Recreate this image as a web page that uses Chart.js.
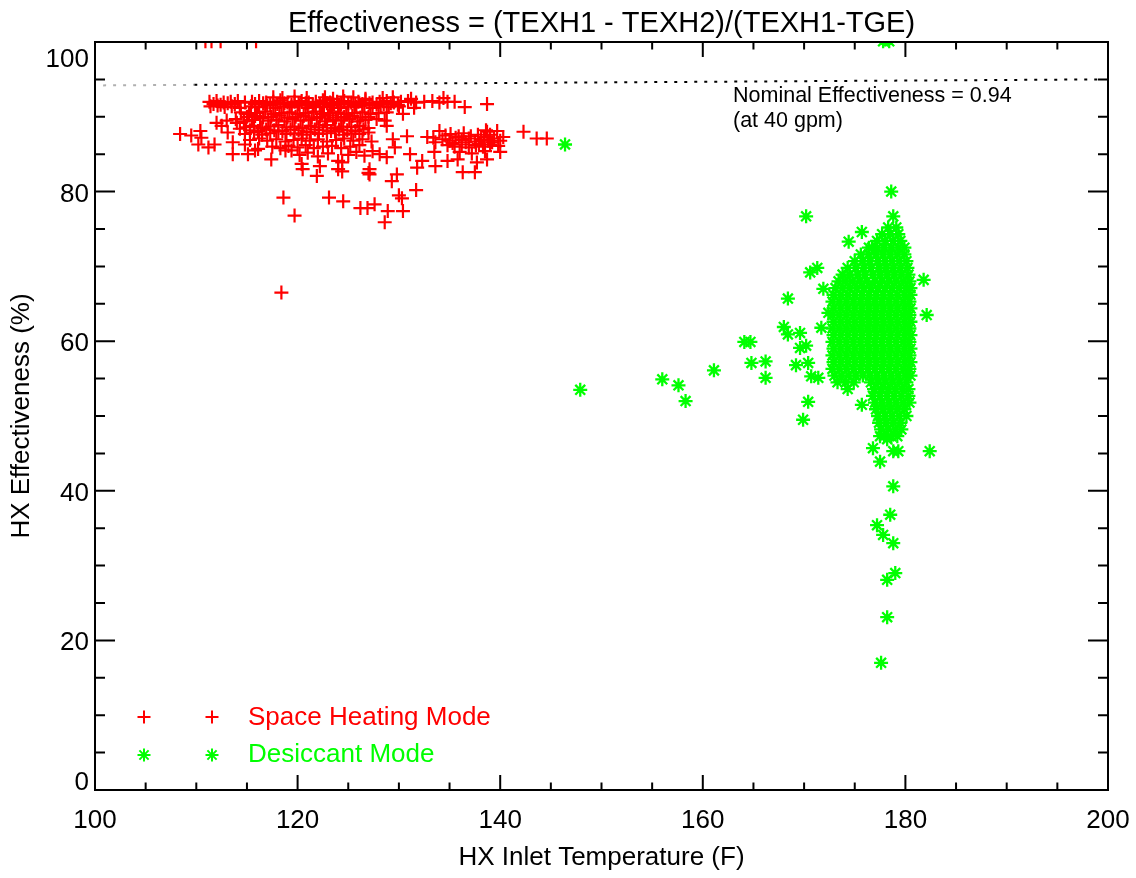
<!DOCTYPE html>
<html>
<head>
<meta charset="utf-8">
<title>HX Effectiveness</title>
<script src="https://cdn.jsdelivr.net/npm/chart.js@4.4.1/dist/chart.umd.min.js"></script>
<style>
  html, body { margin: 0; padding: 0; background: #fff; }
  canvas { display: block; }
</style>
</head>
<body>
<canvas id="hx-chart" width="1136" height="878"></canvas>
<script>
const titleText = 'Effectiveness = (TEXH1 - TEXH2)/(TEXH1-TGE)';
const xTitle = 'HX Inlet Temperature (F)';
const yTitle = 'HX Effectiveness (%)';
const xTickValues = [100, 120, 140, 160, 180, 200];
const xTickLabels = ['100', '120', '140', '160', '180', '200'];
const yTickValues = [0, 20, 40, 60, 80, 100];
const yTickLabels = ['0', '20', '40', '60', '80', '100'];
const minorStep = 5;
const seriesNames = ['Space Heating Mode', 'Desiccant Mode'];
const noteLines = ['Nominal Effectiveness = 0.94', '(at 40 gpm)'];

// nominal effectiveness reference (dotted)
const nominalGrey = [[100.8, 94.2], [109.8, 94.27]];
const nominalBlack = [[109.8, 94.27], [199.0, 95.0]];

// space heating mode (temp F, effectiveness %)
const heatingClipped = [[110.9, 100.1], [111.5, 100.1], [112.4, 100.1], [115.9, 100.1]];
const heatingTop = [
  [111.3, 92.0], [112.0, 92.1], [112.7, 91.9], [113.4, 92.0], [114.1, 92.1], [114.8, 91.9],
  [115.5, 92.0], [116.2, 92.1], [116.9, 91.9], [117.6, 92.0], [118.3, 92.2], [119.0, 91.9],
  [119.7, 92.0], [120.4, 92.1], [121.1, 91.9], [121.8, 92.0], [122.5, 92.2], [123.2, 91.9],
  [123.9, 92.0], [124.6, 92.1], [125.3, 91.9], [126.0, 92.0], [126.7, 92.2], [127.4, 91.9],
  [128.1, 92.0], [128.8, 92.1], [129.5, 91.9], [130.2, 92.0], [130.9, 92.1], [131.7, 91.9],
  [132.5, 92.0], [133.3, 92.1], [134.0, 91.9], [134.8, 92.0], [135.5, 92.0], [138.7, 91.7],
  [117.6, 92.6], [118.5, 92.5], [119.7, 92.7], [120.9, 92.5], [122.7, 92.6], [123.5, 92.4],
  [124.5, 92.7], [125.5, 92.6], [126.7, 92.4], [128.4, 92.5], [129.4, 92.6], [131.2, 92.4],
  [134.4, 92.5],
  [111.7, 91.7], [112.4, 91.6], [113.1, 91.8], [113.8, 91.7], [115.8, 91.7], [116.6, 91.8],
  [117.3, 91.6], [118.0, 91.7], [118.7, 91.8], [119.4, 91.6], [120.1, 91.7], [120.8, 91.8],
  [121.5, 91.6], [122.2, 91.7], [122.9, 91.8], [123.6, 91.6], [124.3, 91.7], [125.0, 91.8],
  [125.7, 91.6], [126.4, 91.7], [127.1, 91.8], [127.8, 91.6], [128.5, 91.7], [129.2, 91.8],
  [129.9, 91.6]
];
const heatingCore = [
  [111.4, 91.4], [112.1, 91.5], [112.8, 91.3], [113.5, 91.4], [114.3, 91.2], [115.4, 91.4],
  [116.2, 91.3], [117.0, 91.5], [117.8, 91.2], [118.6, 91.4], [119.4, 91.3], [120.2, 91.5],
  [121.0, 91.2], [121.8, 91.4], [122.6, 91.3], [123.4, 91.5], [124.2, 91.2], [125.0, 91.4],
  [125.8, 91.3], [126.6, 91.5], [127.4, 91.2], [128.2, 91.4], [129.0, 91.3], [130.0, 91.4],
  [131.5, 91.2], [136.5, 91.3],
  [114.4, 90.6], [115.2, 90.4], [116.0, 90.5], [116.8, 90.7], [117.6, 90.4], [118.4, 90.5],
  [119.2, 90.6], [120.0, 90.4], [120.8, 90.5], [121.6, 90.7], [122.4, 90.4], [123.2, 90.5],
  [124.0, 90.6], [124.8, 90.4], [125.6, 90.5], [126.4, 90.6], [127.2, 90.4], [128.0, 90.5],
  [128.8, 90.6], [130.4, 90.4],
  [115.0, 90.0], [115.8, 90.1], [116.6, 89.9], [117.4, 90.0], [118.2, 90.2], [119.0, 89.9],
  [119.8, 90.0], [120.6, 90.1], [121.4, 89.9], [122.2, 90.0], [123.0, 90.2], [123.8, 89.9],
  [124.6, 90.0], [125.4, 90.1], [126.2, 89.9], [127.0, 90.0],
  [113.0, 89.5], [113.9, 89.7], [114.7, 89.4], [115.5, 89.6], [116.3, 89.8], [117.1, 89.5],
  [117.9, 89.6], [118.7, 89.4], [119.5, 89.7], [120.3, 89.5], [121.1, 89.6], [121.9, 89.8],
  [122.7, 89.4], [123.5, 89.6], [124.3, 89.5], [125.1, 89.7], [125.9, 89.4], [126.7, 89.6],
  [127.8, 89.7], [128.6, 89.5],
  [112.0, 89.2], [112.5, 88.8], [114.0, 89.2], [114.9, 88.6], [115.7, 88.8], [116.5, 88.5],
  [117.3, 88.7], [118.1, 88.9], [118.9, 88.6], [119.7, 88.7], [120.5, 88.5], [121.3, 88.8],
  [122.1, 88.6], [122.9, 88.9], [123.7, 88.5], [124.5, 88.7], [125.3, 88.6], [126.1, 88.8],
  [127.0, 88.5], [128.8, 88.8],
  [115.3, 88.2], [116.1, 88.1], [116.9, 88.3], [117.7, 88.2], [118.5, 88.1], [119.3, 88.3],
  [120.1, 88.2], [120.9, 88.0], [121.7, 88.3], [122.5, 88.2], [123.3, 88.1], [124.1, 88.3],
  [124.9, 88.2], [125.7, 88.1], [126.5, 88.3],
  [108.4, 87.7], [109.5, 87.5], [110.4, 88.1], [113.1, 87.9], [114.3, 88.4], [114.8, 87.7],
  [115.7, 87.9], [116.5, 87.6], [117.3, 87.8], [118.1, 88.0], [118.9, 87.7], [119.7, 87.8],
  [120.5, 87.6], [121.3, 87.9], [122.1, 87.7], [122.9, 87.8], [123.7, 88.0], [124.5, 87.6],
  [125.3, 87.8], [126.1, 87.7], [127.0, 87.9], [130.8, 87.4], [132.8, 87.3],
  [110.5, 87.2], [113.6, 86.6], [115.3, 86.9], [116.2, 87.1], [117.0, 86.8], [117.9, 87.0],
  [118.8, 86.7], [119.6, 86.9], [120.4, 87.1], [121.2, 86.8], [122.0, 87.0], [122.9, 86.7],
  [123.8, 86.9], [124.6, 87.1], [125.5, 86.8], [126.4, 87.0], [127.3, 86.7], [129.4, 87.0],
  [110.2, 86.3], [111.2, 85.9], [111.8, 86.3], [114.8, 86.3], [115.8, 85.5], [116.1, 85.7],
  [117.5, 86.0], [118.3, 85.8], [119.1, 86.1], [120.0, 85.9], [120.8, 86.2], [121.6, 85.8],
  [122.5, 86.0], [123.4, 86.1], [124.3, 85.8], [125.2, 86.0], [126.1, 86.2], [127.4, 85.4],
  [128.1, 85.0], [129.6, 85.9], [131.1, 85.0]
];
const heatingRight = [
  [133.4, 87.2], [133.6, 86.6], [133.5, 85.3], [134.0, 88.1], [134.3, 87.0], [135.0, 86.8],
  [135.6, 87.2], [136.2, 86.9], [136.9, 87.1], [137.5, 86.7], [138.1, 87.0], [138.8, 86.8],
  [139.4, 87.1], [134.8, 86.2], [135.5, 86.0], [136.2, 86.3], [136.9, 85.9], [137.6, 86.2],
  [138.3, 86.0], [139.0, 86.3], [139.8, 86.1], [135.1, 87.7], [136.4, 87.8], [137.8, 87.6],
  [138.6, 88.2], [136.0, 85.3], [137.2, 85.1], [138.5, 85.4], [140.0, 85.3],
  [134.6, 87.5], [135.9, 87.4], [137.1, 87.4], [138.4, 87.3], [139.0, 87.6], [135.3, 86.5],
  [136.6, 86.6], [137.9, 86.4], [139.2, 86.6], [140.0, 86.8],
  [138.7, 88.0], [139.7, 88.1], [140.3, 87.3], [142.3, 88.0], [143.6, 87.1], [144.6, 87.1]
];
const heatingScatter = [
  [113.6, 85.0], [115.1, 85.0], [118.8, 85.5], [119.4, 85.5], [120.2, 84.9], [121.0, 85.2],
  [122.0, 84.7], [123.0, 85.1], [124.0, 84.1], [125.0, 84.9], [125.8, 85.3], [126.6, 84.8],
  [128.8, 84.6], [132.3, 84.1], [134.8, 84.1], [135.8, 84.3], [137.7, 83.9], [138.7, 84.3],
  [131.8, 83.2], [133.6, 83.4], [117.4, 84.3], [120.4, 83.7], [120.5, 83.0], [121.9, 82.1],
  [122.2, 83.4], [124.0, 83.0], [124.4, 82.7], [124.4, 83.9], [127.0, 82.5], [127.1, 83.0],
  [127.1, 82.3], [129.3, 81.4], [129.8, 82.3], [136.3, 82.6], [137.5, 82.6],
  [118.6, 79.2], [119.7, 76.8], [123.1, 79.2], [124.5, 78.7], [126.2, 77.8], [126.9, 77.8],
  [127.6, 78.3], [128.9, 77.4], [128.6, 75.9], [130.4, 77.4], [130.0, 79.5], [130.3, 79.1],
  [131.7, 80.2], [118.4, 66.5]
];

// desiccant mode
const desiccantClipped = [[177.8, 100.1], [178.4, 100.1]];
const desiccantScatter = [
  [146.4, 86.3], [147.9, 53.5], [156.0, 54.9], [157.6, 54.1], [158.3, 52.0], [161.1, 56.1],
  [164.1, 59.9], [164.7, 59.9], [164.8, 57.1], [166.2, 57.3], [166.2, 55.1], [168.4, 65.7],
  [168.0, 61.9], [168.4, 60.9], [169.6, 61.1], [169.6, 59.1], [170.2, 59.4], [169.2, 56.8],
  [170.4, 57.1], [170.7, 55.3], [171.4, 55.1], [170.4, 51.9], [169.9, 49.5], [170.6, 69.2],
  [171.3, 69.8], [171.9, 67.0], [172.4, 63.8], [171.7, 61.8], [170.2, 76.7], [174.4, 73.3],
  [175.7, 74.6], [176.7, 72.5], [178.6, 80.0], [178.8, 76.7], [181.8, 68.2], [182.1, 63.5],
  [175.7, 51.5], [176.8, 45.7], [177.5, 43.9], [178.8, 40.6], [182.4, 45.3], [178.5, 36.8],
  [177.2, 35.4], [177.8, 34.1], [178.8, 33.0], [178.2, 28.1], [179.0, 29.0], [178.2, 23.1],
  [177.6, 17.0], [178.8, 45.3], [179.3, 45.3], [178.2, 46.9], [177.5, 47.3]
];
// dense core: [effectiveness, [temperatures...]]
const desiccantCore = [
  [75.2, [178.3, 179.1]],
  [74.3, [177.7, 178.5, 179.3]],
  [73.4, [177.2, 178.0, 178.8, 179.5]],
  [72.5, [176.4, 177.2, 177.9, 178.6, 179.3, 179.9]],
  [71.6, [175.6, 176.4, 177.1, 177.8, 178.5, 179.2, 179.9]],
  [70.7, [175.0, 175.8, 176.5, 177.3, 178.0, 178.7, 179.4, 180.1]],
  [69.8, [174.3, 175.1, 175.9, 176.6, 177.4, 178.1, 178.8, 179.5, 180.2]],
  [68.9, [173.8, 174.5, 175.3, 176.0, 176.8, 177.5, 178.2, 178.9, 179.6, 180.3]],
  [68.0, [173.4, 174.1, 174.8, 175.5, 176.2, 177.0, 177.7, 178.4, 179.1, 179.8, 180.4]],
  [67.1, [173.1, 173.8, 174.5, 175.2, 175.9, 176.6, 177.3, 178.0, 178.7, 179.4, 180.1, 180.5]],
  [66.2, [172.9, 173.6, 174.3, 175.0, 175.7, 176.4, 177.1, 177.8, 178.5, 179.2, 179.9, 180.5]],
  [65.3, [172.8, 173.5, 174.2, 174.9, 175.6, 176.3, 177.0, 177.7, 178.4, 179.1, 179.8, 180.4]],
  [64.4, [172.9, 173.6, 174.3, 175.0, 175.7, 176.4, 177.1, 177.8, 178.5, 179.2, 179.9, 180.5]],
  [63.5, [172.8, 173.5, 174.2, 174.9, 175.6, 176.3, 177.0, 177.7, 178.4, 179.1, 179.8, 180.4]],
  [62.6, [172.9, 173.6, 174.3, 175.0, 175.7, 176.4, 177.1, 177.8, 178.5, 179.2, 179.9, 180.5]],
  [61.7, [172.8, 173.5, 174.2, 174.9, 175.6, 176.3, 177.0, 177.7, 178.4, 179.1, 179.8, 180.4]],
  [60.8, [172.9, 173.6, 174.3, 175.0, 175.7, 176.4, 177.1, 177.8, 178.5, 179.2, 179.9, 180.5]],
  [59.9, [172.8, 173.5, 174.2, 174.9, 175.6, 176.3, 177.0, 177.7, 178.4, 179.1, 179.8, 180.4]],
  [59.0, [172.9, 173.6, 174.3, 175.0, 175.7, 176.4, 177.1, 177.8, 178.5, 179.2, 179.9, 180.5]],
  [58.1, [172.8, 173.5, 174.2, 174.9, 175.6, 176.3, 177.0, 177.7, 178.4, 179.1, 179.8, 180.4]],
  [57.2, [172.9, 173.6, 174.3, 175.0, 175.7, 176.4, 177.1, 177.8, 178.5, 179.2, 179.9, 180.5]],
  [56.3, [172.8, 173.5, 174.2, 174.9, 175.6, 176.3, 177.0, 177.7, 178.4, 179.1, 179.8, 180.4]],
  [55.4, [173.0, 173.7, 174.4, 175.1, 175.8, 176.5, 177.2, 177.9, 178.6, 179.3, 180.0, 180.5]],
  [54.5, [173.3, 174.1, 174.9, 176.6, 177.3, 178.0, 178.7, 179.4, 180.1]],
  [53.6, [174.3, 176.9, 177.6, 178.3, 179.0, 179.7, 180.3]],
  [52.7, [176.8, 177.5, 178.2, 178.9, 179.6, 180.3]],
  [51.8, [177.0, 177.7, 178.4, 179.1, 179.8, 180.4]],
  [50.9, [177.1, 177.8, 178.5, 179.2, 179.9]],
  [50.0, [177.3, 178.0, 178.7, 179.4, 180.1]],
  [49.1, [177.4, 178.1, 178.8, 179.5]],
  [48.2, [177.6, 178.3, 179.0, 179.6]],
  [47.3, [177.9, 178.6, 179.2]]
];

const RED = '#ff0000';
const GREEN = '#00ff00';
const FONT = '"Liberation Sans", Arial, Helvetica, sans-serif';

const toXY = pts => pts.map(p => ({ x: p[0], y: p[1] }));
const rowsToXY = rows => rows.flatMap(r => r[1].map(t => ({ x: t, y: r[0] })));

function drawMark(ctx, style, color, x, y) {
  ctx.strokeStyle = color;
  ctx.fillStyle = color;
  ctx.lineWidth = 2;
  Chart.helpers.drawPoint(ctx, { pointStyle: style, radius: 6.5, rotation: 0, borderWidth: 2 }, x, y);
}

// IDL-like frame: inward ticks on all four sides, labels, title, note, legend
const idlFrame = {
  id: 'idlFrame',
  afterDraw(chart) {
    const { ctx, chartArea: a } = chart;
    const xs = chart.scales.x, ys = chart.scales.y;
    ctx.save();
    ctx.strokeStyle = '#000';
    ctx.lineWidth = 2;
    ctx.strokeRect(a.left, a.top, a.right - a.left, a.bottom - a.top);

    ctx.beginPath();
    for (let v = xs.min; v <= xs.max; v += minorStep) {
      const px = xs.getPixelForValue(v);
      const len = xTickValues.includes(v) ? 15 : 7.5;
      ctx.moveTo(px, a.bottom); ctx.lineTo(px, a.bottom - len);
      ctx.moveTo(px, a.top); ctx.lineTo(px, a.top + len);
    }
    for (let v = ys.min; v <= ys.max; v += minorStep) {
      const py = ys.getPixelForValue(v);
      const len = yTickValues.includes(v) ? 20 : 10;
      ctx.moveTo(a.left, py); ctx.lineTo(a.left + len, py);
      ctx.moveTo(a.right, py); ctx.lineTo(a.right - len, py);
    }
    ctx.stroke();

    ctx.fillStyle = '#000';
    ctx.font = '26px ' + FONT;
    ctx.textBaseline = 'alphabetic';
    ctx.textAlign = 'center';
    xTickValues.forEach((v, i) => {
      ctx.fillText(xTickLabels[i], xs.getPixelForValue(v), a.bottom + 38);
    });
    ctx.textAlign = 'right';
    yTickValues.forEach((v, i) => {
      const base = Math.min(Math.max(ys.getPixelForValue(v) + 10, a.top + 25), a.bottom);
      ctx.fillText(yTickLabels[i], a.left - 6, base);
    });

    ctx.textAlign = 'center';
    ctx.font = '29px ' + FONT;
    ctx.fillText(titleText, (a.left + a.right) / 2, 32);

    ctx.textAlign = 'left';
    ctx.font = '21.5px ' + FONT;
    ctx.fillText(noteLines[0], a.left + 638, a.top + 60);
    ctx.fillText(noteLines[1], a.left + 638, a.top + 85);

    // legend
    drawMark(ctx, 'cross', RED, a.left + 49, a.bottom - 73);
    drawMark(ctx, 'cross', RED, a.left + 117, a.bottom - 73);
    drawMark(ctx, 'star', GREEN, a.left + 49, a.bottom - 35);
    drawMark(ctx, 'star', GREEN, a.left + 117, a.bottom - 35);
    ctx.font = '26px ' + FONT;
    ctx.fillStyle = RED;
    ctx.fillText(seriesNames[0], a.left + 153, a.bottom - 65);
    ctx.fillStyle = GREEN;
    ctx.fillText(seriesNames[1], a.left + 153, a.bottom - 28);
    ctx.restore();
  }
};

const heatingData = toXY([].concat(heatingClipped, heatingTop, heatingCore, heatingRight, heatingScatter));
const desiccantData = toXY(desiccantClipped.concat(desiccantScatter)).concat(rowsToXY(desiccantCore));

const ctx = document.getElementById('hx-chart').getContext('2d');
new Chart(ctx, {
  type: 'scatter',
  data: {
    datasets: [
      {
        label: seriesNames[0],
        data: heatingData,
        pointStyle: 'cross',
        pointRadius: 7,
        pointBorderWidth: 2.2,
        pointBorderColor: RED,
        pointBackgroundColor: RED,
        clip: 0
      },
      {
        label: seriesNames[1],
        data: desiccantData,
        pointStyle: 'star',
        pointRadius: 7,
        pointBorderWidth: 2.3,
        pointBorderColor: GREEN,
        pointBackgroundColor: GREEN,
        clip: 0
      },
      {
        label: 'nominal',
        data: toXY(nominalGrey),
        showLine: true,
        borderColor: '#b0b0b0',
        borderWidth: 2,
        borderDash: [3, 7],
        pointRadius: 0
      },
      {
        label: 'nominal',
        data: toXY(nominalBlack),
        showLine: true,
        borderColor: '#000',
        borderWidth: 2,
        borderDash: [3, 7],
        pointRadius: 0
      }
    ]
  },
  options: {
    responsive: false,
    animation: false,
    devicePixelRatio: 1,
    events: [],
    layout: { padding: { top: 42, right: 28, bottom: 0, left: 0 } },
    plugins: {
      legend: { display: false },
      tooltip: { enabled: false },
      title: { display: false }
    },
    scales: {
      x: {
        type: 'linear',
        min: 100,
        max: 200,
        grid: { display: false },
        border: { display: false },
        ticks: { display: false },
        afterFit: s => { s.height = 88; },
        title: {
          display: true,
          text: xTitle,
          color: '#000',
          font: { family: FONT, size: 26 },
          padding: { top: 0, bottom: 5 }
        }
      },
      y: {
        type: 'linear',
        min: 0,
        max: 100,
        grid: { display: false },
        border: { display: false },
        ticks: { display: false },
        afterFit: s => { s.width = 95; },
        title: {
          display: true,
          text: yTitle,
          color: '#000',
          font: { family: FONT, size: 26 },
          padding: { top: 6, bottom: 0 }
        }
      }
    }
  },
  plugins: [idlFrame]
});
</script>
</body>
</html>
